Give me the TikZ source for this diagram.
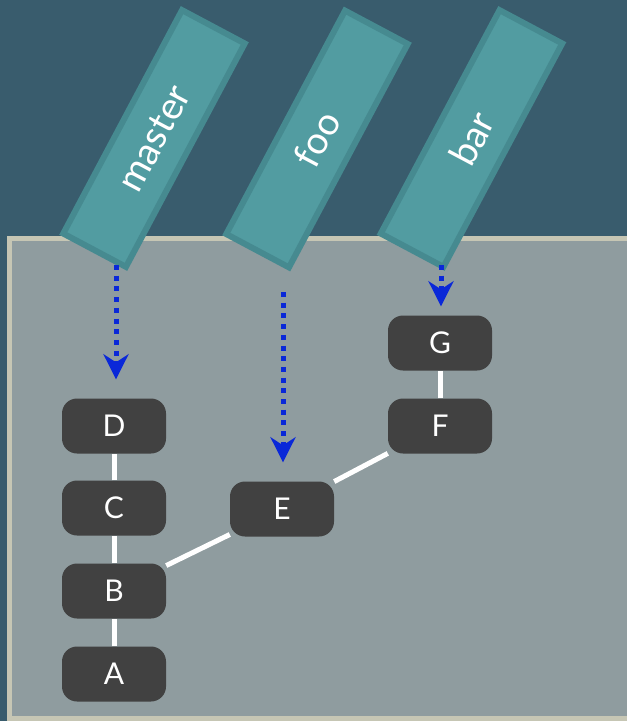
\documentclass[tikz,border=0pt]{standalone}
\usepackage{fontspec}
\setmainfont{Lato}
\usetikzlibrary{arrows.meta}
\definecolor{bgteal}{HTML}{395C6D}
\definecolor{panelfill}{HTML}{8F9C9F}
\definecolor{panelborder}{HTML}{C6C6B4}
\definecolor{lblfill}{HTML}{529CA1}
\definecolor{lblborder}{HTML}{468A90}
\definecolor{commitfill}{HTML}{414141}
\definecolor{ptrblue}{HTML}{0A28D8}
\tikzset{
  commit/.style={draw=none, fill=commitfill, rounded corners=15pt, minimum width=104pt, minimum height=55pt, inner sep=0pt, text=white, font=\fontsize{30}{34}\selectfont},
  branchlbl/.style={draw=lblborder, line width=6pt, fill=lblfill, rotate=62, minimum width=253pt, minimum height=71pt, inner sep=0pt, text=white, font=\fontsize{38}{42}\selectfont},
  link/.style={draw=white, line width=5pt},
  ptr/.style={draw=ptrblue, line width=5pt, dash pattern=on 5pt off 5.7pt, -{Stealth[length=25pt, width=25pt, inset=8pt]}, shorten >=19pt}
}
\begin{document}
\begin{tikzpicture}[x=1pt, y=-1pt]
\useasboundingbox (0,0) rectangle (627,721);
\fill[bgteal] (0,0) rectangle (627,721);
\draw[panelborder, fill=panelfill, line width=5pt] (9.5,238.5) rectangle (640,718.5);
% commits
\node[commit] (A) at (114,674) {A};
\node[commit] (B) at (114,591) {B};
\node[commit] (C) at (114,508) {C};
\node[commit] (D) at (114,426) {D};
\node[commit] (E) at (282,509) {E};
\node[commit] (F) at (440,426) {F};
\node[commit] (G) at (440,343) {G};
% links
\draw[link] (A) -- (B);
\draw[link] (B) -- (C);
\draw[link] (C) -- (D);
\draw[link] (B) -- (E);
\draw[link] (E) -- (F);
\draw[link] (F) -- (G);
% branch labels
\node[branchlbl] (master) at (154,138.5) {master};
\node[branchlbl] (foo) at (317,139) {foo};
\node[branchlbl] (bar) at (471.5,138.5) {bar};
% pointers
\coordinate (pm) at (116,265);
\coordinate (pf) at (283,292);
\coordinate (pb) at (441,265);
\draw[ptr] (pm) -- (pm |- D.north);
\draw[ptr] (pf) -- (pf |- E.north);
\draw[ptr, shorten >=9pt] (pb) -- (pb |- G.north);
\end{tikzpicture}
\end{document}
